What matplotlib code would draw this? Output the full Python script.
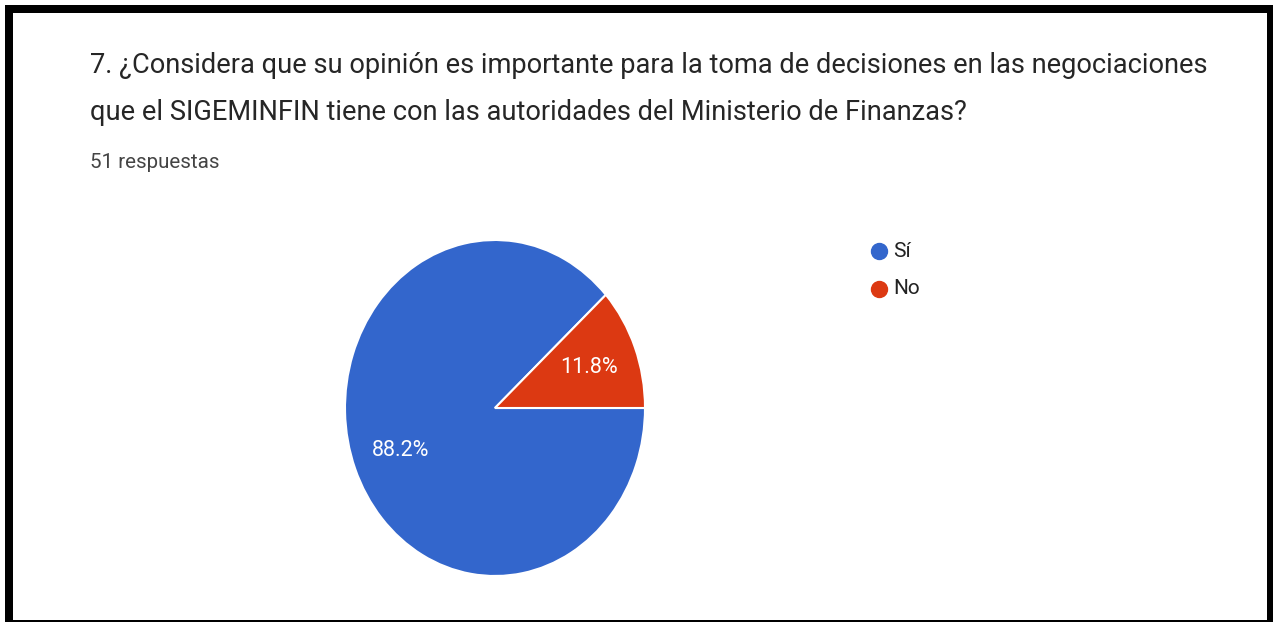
import matplotlib.pyplot as plt
from matplotlib.patches import Rectangle
from matplotlib.lines import Line2D

# survey answers
categories = ["Sí", "No"]
counts = [45, 6]
colors = ["#3366cc", "#dc3912"]

title_lines = [
    "7. ¿Considera que su opinión es importante para la toma de decisiones en las negociaciones",
    "que el SIGEMINFIN tiene con las autoridades del Ministerio de Finanzas?",
]
subtitle = f"{sum(counts)} respuestas"

W, H = 1274, 622
plt.rcParams["font.family"] = ["Roboto", "DejaVu Sans"]

fig = plt.figure(figsize=(W / 100, H / 100), dpi=100)
fig.patch.set_facecolor("white")


def fx(x):
    return x / W


def fy(y):
    return 1 - y / H


# black frame
for x0, y0, x1, y1 in [(5, 5, 1273, 13), (5, 5, 13, 622), (1267, 5, 1273, 622), (5, 620, 1273, 622)]:
    fig.add_artist(Rectangle((fx(x0), fy(y1)), fx(x1 - x0), (y1 - y0) / H,
                             transform=fig.transFigure, color="black", lw=0))

fig.text(fx(90), fy(73), title_lines[0], fontsize=19.6, color="#262626", va="baseline")
fig.text(fx(90), fy(120), title_lines[1], fontsize=19.6, color="#262626", va="baseline")
fig.text(fx(90), fy(168), subtitle, fontsize=14.8, color="#444444", va="baseline")

# pie is slightly taller than wide
cx, cy, rx, ry = 495, 408, 150, 168
ax = fig.add_axes([fx(cx - 1.1 * rx), fy(cy + 1.1 * ry), 2.2 * rx / W, 2.2 * ry / H])
wedges, texts, autotexts = ax.pie(
    counts, colors=colors, startangle=0, counterclock=False,
    autopct="%.1f%%", pctdistance=0.67,
    wedgeprops=dict(edgecolor="white", linewidth=1.5),
    textprops=dict(color="white", fontsize=15.5),
)
autotexts[0].set_position((-0.63, -0.25))
ax.set_aspect("auto")
ax.set_xlim(-1.1, 1.1)
ax.set_ylim(-1.1, 1.1)
ax.axis("off")

# legend
for i, (lab, col) in enumerate(zip(categories, colors)):
    y = 251 + i * 38
    fig.add_artist(Line2D([fx(879)], [fy(y)], marker="o", markersize=11.5,
                          color=col, transform=fig.transFigure))
    fig.text(fx(893), fy(y), lab, fontsize=15, color="#222222", va="center")

fig.savefig("out.png", dpi=100)
